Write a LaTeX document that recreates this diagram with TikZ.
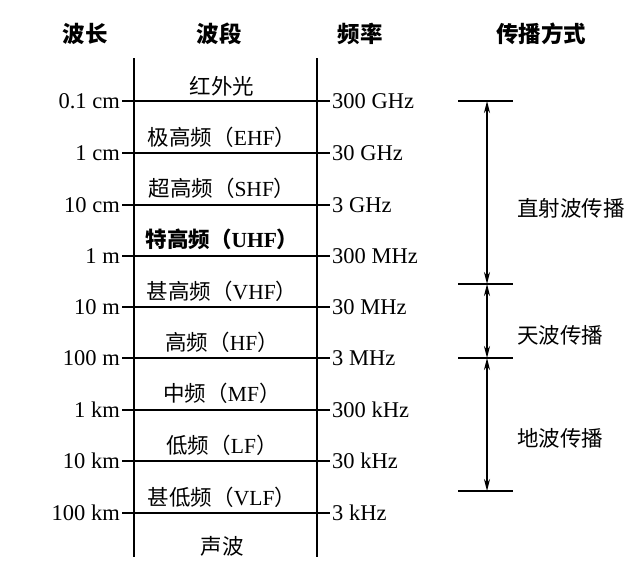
\documentclass[tikz,border=0pt]{standalone}
\usepackage{fontspec}
\setmainfont{Liberation Serif}
\newfontfamily\cjk{Noto Sans CJK SC}
\usetikzlibrary{arrows.meta}
\newcommand{\bandlbl}[2]{{\cjk #1（}#2{\cjk ）}}
\tikzset{
  hdr/.style={font=\cjk\bfseries\fontsize{22.5}{25}\selectfont, inner sep=1pt},
  txt/.style={font=\fontsize{22.5}{25}\selectfont, inner sep=2pt},
  bandtxt/.style={font=\fontsize{21.5}{25}\selectfont, inner sep=1pt},
  cjktxt/.style={font=\cjk\fontsize{21.5}{25}\selectfont, inner sep=1pt},
  axis/.style={line width=2.8pt},
  bar/.style={line width=2.6pt},
  dim/.style={line width=1.7pt, {Stealth[length=12pt,width=6pt]}-{Stealth[length=12pt,width=6pt]}}
}
\begin{document}
\begin{tikzpicture}[x=1pt,y=-1pt]
\useasboundingbox[fill=white] (0,0) rectangle (642,566);
% headers
\node[hdr] (hwl) at (85,34) {波长};
\node[hdr] (hband) at (219,34) {波段};
\node[hdr] (hfreq) at (360,34) {频率};
\node[hdr] (hprop) at (541,34) {传播方式};
% vertical axes
\coordinate (lt) at (134,58); \coordinate (lb) at (134,557);
\coordinate (rt) at (317,58); \coordinate (rb) at (317,557);
\draw[axis] (lt) -- (lb);
\draw[axis] (rt) -- (rb);
% levels
\foreach \i/\y/\wl/\fq in {1/101/0.1 cm/300 GHz, 2/153/1 cm/30 GHz, 3/205/10 cm/3 GHz, 4/256/1 m/300 MHz, 5/307/10 m/30 MHz, 6/358/100 m/3 MHz, 7/410/1 km/300 kHz, 8/461/10 km/30 kHz, 9/513/100 km/3 kHz}{
  \coordinate (a\i) at (122,\y);
  \coordinate (b\i) at (330,\y);
  \draw[axis] (a\i) -- (b\i);
  \node[txt, anchor=east] (wl\i) at (a\i) {\wl};
  \node[txt, anchor=west] (fq\i) at (b\i) {\fq};
}
% band labels
\node[cjktxt] (band0) at (222,86) {红外光};
\node[bandtxt] (band1) at (222,137) {\bandlbl{极高频}{EHF}};
\node[bandtxt] (band2) at (222,188) {\bandlbl{超高频}{SHF}};
\node[bandtxt, font=\bfseries\fontsize{21.5}{25}\selectfont] (band3) at (222,239) {{\cjk\bfseries 特高频（}UHF{\cjk\bfseries ）}};
\node[bandtxt] (band4) at (222,291) {\bandlbl{甚高频}{VHF}};
\node[bandtxt] (band5) at (222,342) {\bandlbl{高频}{HF}};
\node[bandtxt] (band6) at (222,393) {\bandlbl{中频}{MF}};
\node[bandtxt] (band7) at (222,445) {\bandlbl{低频}{LF}};
\node[bandtxt] (band8) at (222,497) {\bandlbl{甚低频}{VLF}};
\node[cjktxt] (band9) at (222,546) {声波};
% propagation bars
\foreach \j/\y in {1/101, 2/284, 3/358, 4/491}{
  \coordinate (pl\j) at (458,\y);
  \coordinate (pr\j) at (513,\y);
  \coordinate (pm\j) at (487,\y);
  \draw[bar] (pl\j) -- (pr\j);
}
\draw[dim] (pm1) -- (pm2);
\draw[dim] (pm2) -- (pm3);
\draw[dim] (pm3) -- (pm4);
\node[cjktxt, anchor=west] (p1) at (516,208) {直射波传播};
\node[cjktxt, anchor=west] (p2) at (516,335) {天波传播};
\node[cjktxt, anchor=west] (p3) at (516,438) {地波传播};
\end{tikzpicture}
\end{document}
